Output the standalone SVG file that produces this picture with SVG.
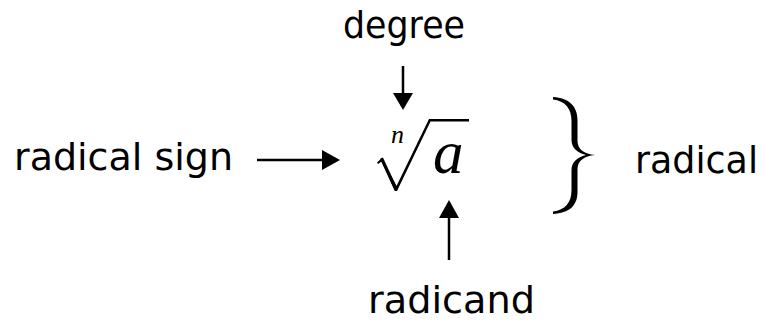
<svg xmlns="http://www.w3.org/2000/svg" width="765" height="324" viewBox="0 0 765 324">
  <style>
    .lbl { font-family: "DejaVu Sans", "Liberation Sans", sans-serif; font-size: 38px; fill: #000; }
    .math { font-family: "Liberation Serif", "DejaVu Serif", serif; font-style: italic; fill: #000; }
    .conn { stroke: #000; stroke-width: 2.5; fill: none; }
    .head { fill: #000; stroke: none; }
  </style>
  <rect width="765" height="324" fill="#fff"/>
  <g id="radical-expr">
    <polygon points="377,162.5 382,158 396.5,186 429,119 469,119 469,121.5 430.5,121.5 397,191 395,191 381.5,161.5 378,164" fill="#000"/>
    <path d="M381.5,158.2 L396.2,190" stroke="#000" stroke-width="3.2" fill="none"/>
    <text class="math" x="391" y="143" font-size="26">n</text>
    <text class="math" x="433" y="173" font-size="61">a</text>
  </g>
  <g id="degree">
    <text class="lbl" x="343" y="38" textLength="122" lengthAdjust="spacingAndGlyphs">degree</text>
  </g>
  <g id="radical-sign">
    <text class="lbl" x="14" y="170" textLength="219" lengthAdjust="spacingAndGlyphs">radical sign</text>
  </g>
  <g id="radicand">
    <text class="lbl" x="368" y="313" textLength="167" lengthAdjust="spacingAndGlyphs">radicand</text>
  </g>
  <g id="radical">
    <path d="M553,97 C569,98 577.5,106 577.5,120 L577.5,141 C577.5,149 584,154 595,155 C584,156 577.5,161 577.5,169 L577.5,192 C577.5,206 569,213 553,214 L553,211.5 C565,210 571.5,203 571.5,190 L571.5,170 C571.5,162 577,157.5 586,155 C577,152.5 571.5,148 571.5,140 L571.5,121 C571.5,108 565,101 553,99.5 Z" fill="#000"/>
    <text class="lbl" x="635" y="173" textLength="123" lengthAdjust="spacingAndGlyphs">radical</text>
  </g>
  <g id="connectors">
    <line class="conn" x1="403" y1="66" x2="403" y2="95"/>
    <polygon class="head" points="393,93 413,93 403,110"/>
    <line class="conn" x1="257" y1="160" x2="324" y2="160"/>
    <polygon class="head" points="322,150 322,170 340,160"/>
    <line class="conn" x1="449" y1="260" x2="449" y2="216"/>
    <polygon class="head" points="439,218 459,218 449,200"/>
  </g>
</svg>
